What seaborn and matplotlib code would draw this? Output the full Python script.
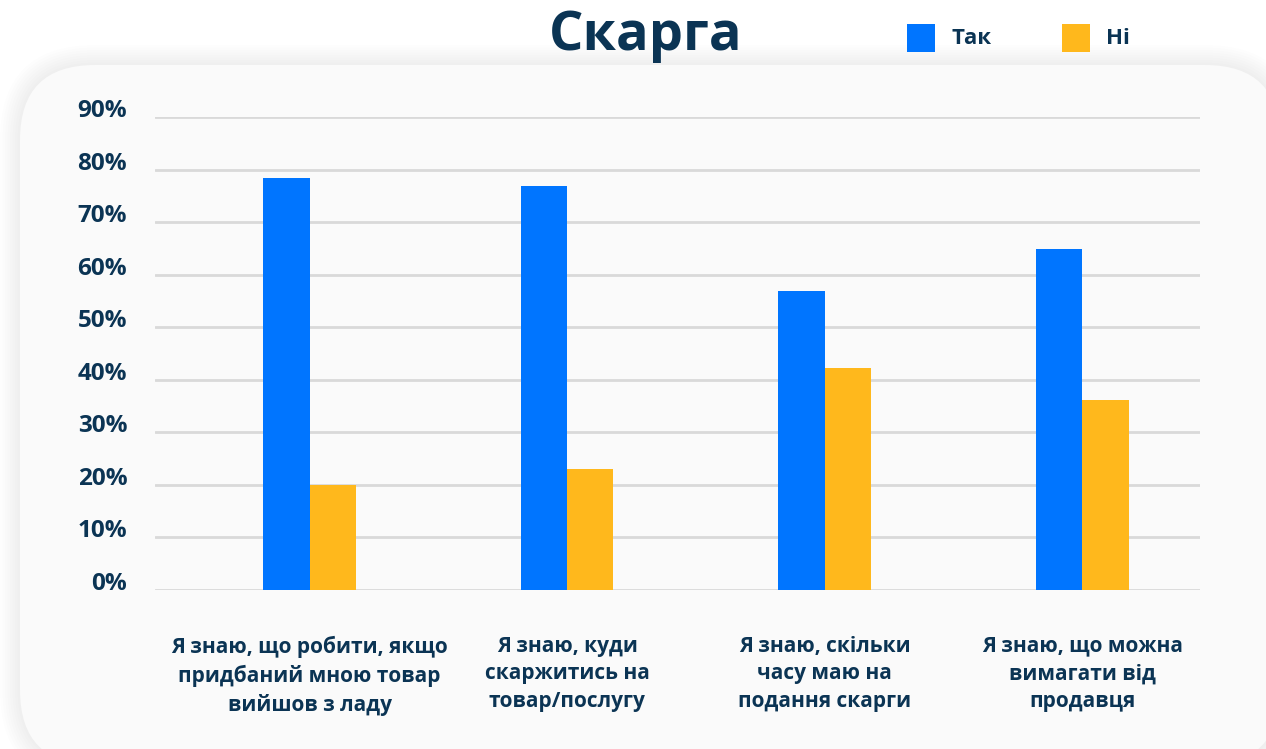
import matplotlib
matplotlib.use("Agg")
import matplotlib.pyplot as plt
import seaborn as sns
import pandas as pd
from matplotlib.patches import FancyBboxPatch, Rectangle

categories = [
    "Я знаю, що робити, якщо\nпридбаний мною товар\nвийшов з ладу",
    "Я знаю, куди\nскаржитись на\nтовар/послугу",
    "Я знаю, скільки\nчасу маю на\nподання скарги",
    "Я знаю, що можна\nвимагати від\nпродавця",
]
series_names = ["Так", "Ні"]
tak_values = [78.3, 76.8, 56.9, 64.8]
ni_values = [20.0, 23.0, 42.2, 36.1]
y_ticks = [0, 10, 20, 30, 40, 50, 60, 70, 80, 90]
y_tick_labels = [f"{v}%" for v in y_ticks]
title = "Скарга"

colors = {"Так": "#0075FF", "Ні": "#FFB81C"}
navy = "#0B3454"

df = pd.DataFrame({
    "category": categories * 2,
    "series": [series_names[0]] * 4 + [series_names[1]] * 4,
    "value": tak_values + ni_values,
})

sns.set_theme(style="white")
plt.rcParams['font.family'] = ['Open Sans', 'DejaVu Sans']

fig = plt.figure(figsize=(12.66, 7.49), dpi=100)
fig.patch.set_facecolor("white")

W, H = 1266, 749
px, py0, pw, ph, r = 20, 65, 1260, 700, 75


def rbox(x, y_top, w, h, rad, **kw):
    return FancyBboxPatch((x / W, 1 - (y_top + h) / H), w / W, h / H,
                          boxstyle=f"round,pad=0,rounding_size={rad / W}",
                          transform=fig.transFigure, mutation_aspect=W / H,
                          edgecolor="none", **kw)


# soft shadow
for k in range(8, 0, -1):
    off = k * 2.5
    fig.patches.append(rbox(px - off, py0 - off, pw + 2 * off, ph + 2 * off, r + off,
                            facecolor="black", alpha=0.006, zorder=-3))
fig.patches.append(rbox(px, py0, pw, ph, r, facecolor="#FAFAFA", zorder=-2))

ax = fig.add_axes([155 / W, 1 - 590 / H, (1200 - 155) / W, (590 - 117) / H])
ax.set_zorder(2)
ax.set_facecolor("none")

sns.barplot(data=df, x="category", y="value", hue="series", palette=colors,
            width=0.36, saturation=1, ax=ax, legend=False, zorder=3,
            linewidth=0, edgecolor="none")

ax.set_ylim(0, 90)
ax.set_xlim(-0.6, 3.457)
ax.set_yticks(y_ticks)
ax.set_yticklabels(y_tick_labels)
ax.yaxis.grid(True, color="#D9D9D9", linewidth=2, zorder=0)
ax.set_axisbelow(True)
ax.xaxis.grid(False)
for s in ax.spines.values():
    s.set_visible(False)
ax.tick_params(axis="y", length=0, pad=20, labelsize=17.5, labelcolor=navy)
ax.tick_params(axis="x", length=0, pad=33, labelsize=15, labelcolor=navy)
for lbl in ax.get_yticklabels():
    lbl.set_fontweight("bold")
    lbl.set_verticalalignment("baseline")
for lbl in ax.get_xticklabels():
    lbl.set_fontweight("bold")
    lbl.set_linespacing(1.4)
ax.set_xlabel("")
ax.set_ylabel("")

fig.text(646 / W, 1 - 36 / H, title, ha="center", va="center", fontsize=39,
         fontweight="bold", color=navy)

# legend
for name, x0 in zip(series_names, [907, 1062]):
    fig.patches.append(Rectangle((x0 / W, 1 - 52 / H), 28 / W, 28 / H,
                                 transform=fig.transFigure, facecolor=colors[name],
                                 edgecolor="none", zorder=5))
    fig.text((x0 + 44) / W, 1 - 39 / H, name, ha="left", va="center",
             fontsize=16, fontweight="bold", color=navy)

fig.savefig("out.png", dpi=100, facecolor="white")
